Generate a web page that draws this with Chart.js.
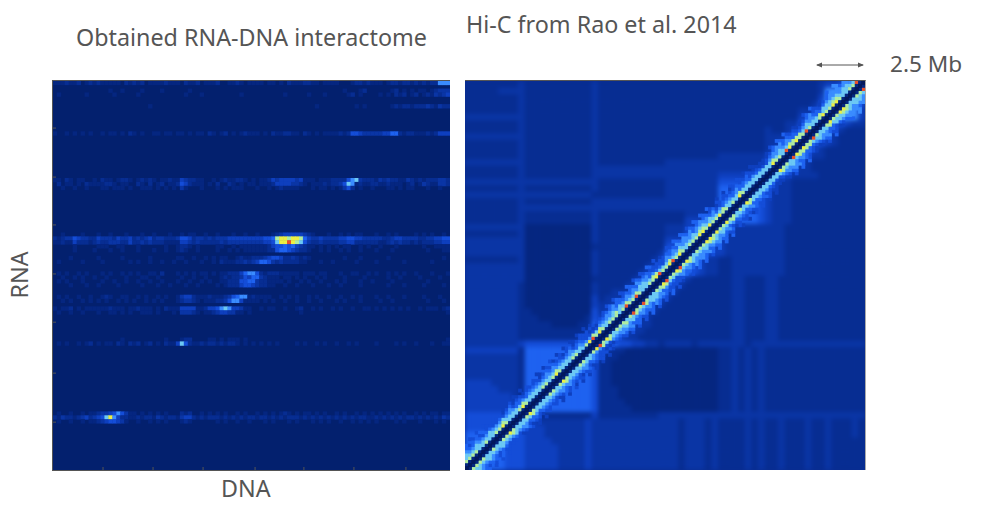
<!DOCTYPE html>
<html>
<head>
<meta charset="utf-8">
<title>RNA-DNA interactome vs Hi-C</title>
<script src="https://cdn.jsdelivr.net/npm/chart.js@4"></script>
<style>
  html, body { margin: 0; padding: 0; background: #fff; }
  body { width: 984px; height: 507px; position: relative; overflow: hidden; font-family: "Noto Sans", sans-serif; color: #555; }
  .panel { position: absolute; overflow: hidden; }
  .panel canvas { display: block; filter: blur(0.5px); }
  #rnaPanel { left: 52px; top: 80px; background: #03206e; border-top: 1px solid #555; border-left: 1px solid #555; border-bottom: 1px solid #555; }
  #hicPanel { left: 465px; top: 80px; width: 400px; height: 389px; background: #0a2d90; border-top: 1px solid #555; border-right: 1px solid #aaa; }
  #hicChart { filter: blur(2px); }
  #bandChart { position: absolute; left: 0; top: 0; }
  .label { position: absolute; font-size: 23.3px; line-height: 28px; white-space: nowrap; }
  #arrow { position: absolute; left: 810px; top: 58px; }
</style>
</head>
<body>
<div class="label" style="left:76px;top:23px">Obtained RNA-DNA interactome</div>
<div class="label" style="left:466px;top:10px">Hi-C from Rao et al. 2014</div>
<div class="label" style="left:890px;top:50px;font-size:22.6px">2.5 Mb</div>
<div class="label" style="left:221px;top:474px">DNA</div>
<div class="label" style="left:-6px;top:261px;width:50px;text-align:center;transform:rotate(-90deg)">RNA</div>
<svg id="arrow" width="60" height="14">
  <line x1="7" y1="7" x2="53" y2="7" stroke="#555" stroke-width="1"/>
  <path d="M6 7 L12 4.5 L12 9.5 Z M54 7 L48 4.5 L48 9.5 Z" fill="#555"/>
</svg>
<div class="panel" id="rnaPanel"><canvas id="rnaChart" width="397" height="389"></canvas></div>
<div class="panel" id="hicPanel">
  <canvas id="hicChart" width="400" height="389"></canvas>
  <canvas id="bandChart" width="400" height="389"></canvas>
</div>

<script>
// colour for each intensity level, read as a hex digit in the strings below
const levelColors = ["#03206e", "#052680", "#072d92", "#0a35a5", "#0e3fbe", "#144dd8", "#1e62f0", "#3a8cff", "#6cc8f4", "#b0eca0", "#ecef44", "#e8502a", "#03185c"];

// ========== LEFT PANEL: RNA-DNA, row number from the top, 100 columns each ==========
const rnaRowIndex = [0, 2, 3, 6, 13, 25, 26, 27, 39, 40, 41, 42, 43, 45, 46, 49, 50, 51, 52, 55, 56, 58, 59, 66, 67, 85, 86, 87];
const rnaRowCells = [
  "1112112012 1211111021 2120111121 1102112011 1200112101 1110110102 1112211011 1100012212 1110122122 1212122777",
  "0000000000 0000100100 0010000100 0000100000 0000000000 0000000000 0000000000 0001000120 0000012010 1011012333",
  "0100000010 0000010000 0100000000 0001000100 0000000100 0000000010 0000100010 0000120100 0010102120 1201213234",
  "0000000000 0000000000 0000100000 0000000000 0000000000 0000000000 0000001000 0000001010 0000012122 1222321322",
  "1001010101 0010110102 1010011011 0110101102 1012010121 1101021122 1102101011 1121255433 3334466212 2111212444",
  "1102101100 1021101221 0121210112 1143221100 1012112210 1011243444 4341110111 2222578322 2132322113 2121222332",
  "0201101021 1112210110 0210201201 1254211101 0200210101 1011124444 3321011121 2235871211 2211211101 2013211332",
  "0010010010 0011011101 0011101010 1031000100 0101011100 0100101211 1100010110 1013520100 1000110101 1000100100",
  "0010000100 0100100010 0010010001 0010110010 0100010010 0100012344 4443210001 0010101100 0100101000 0101010010",
  "2123354332 2433324334 2323423322 2355423323 2333444444 4445569aa9 aa96433433 3344554433 3332234433 3322334455",
  "1121142221 2322333224 2232322211 1144323222 2232333333 3334458aab a985322322 2233442222 2211232322 1212223344",
  "0000010000 0111001100 0100000010 0122101000 0110010111 1111245565 6432110101 0101100101 0010001000 0001001111",
  "0000010000 1000100100 0100010010 0121001000 0100101011 1111225665 4322100101 0010100100 0100010000 0000100011",
  "0000100000 0100000100 0000100000 0110010010 1011001211 2223455422 3212100000 0001000100 0000100000 0000000010",
  "0100000100 0010000001 0100100100 1001000100 1021112232 3466532322 2211000100 1000001000 0100000010 0000010000",
  "0101001010 0010100101 0100110200 0101010110 1011222467 7521222111 1101110110 0010011001 0100101010 0100010001",
  "0010010100 1001000010 0011001000 0010010010 0012122354 6632111011 0101001010 0001000010 0000100100 0010000100",
  "0101000100 0010010010 0100100100 0100100101 0011222556 6322111101 0010100100 0101000100 1000010000 0000100000",
  "0000100010 0100001000 0010001001 0001001000 0101222455 4322110010 0100010001 0010000100 0000100010 0001000010",
  "0101001001 0012100110 0101001010 0134421112 1112356771 2111100101 0100101001 0010010100 0100100010 0001000100",
  "0010100101 0101001010 1001010100 0123321011 1223577411 1101010010 0100100100 0101000100 0010010000 0000100010",
  "1011201011 1111211101 1211101021 1144441124 4578744311 0010110010 0120010100 1010010011 0101010101 0010111012",
  "0100100100 0100110101 0011101000 1033321011 2344331101 0000000000 0010000000 0000000000 0000000000 0000000001",
  "0000000000 0000000100 0000000010 0012200001 1010111010 0000000000 0000000000 0000000000 0000000000 0000000001",
  "0101001012 0101102102 1201201021 1485211212 2121221010 1010101000 0101001010 0100101000 0100001010 0100010011",
  "0100100101 1233457531 1010101010 0021200101 0101001010 0101010121 0101101010 0101001010 1010101010 0101011011",
  "2132212342 3458a74221 1212213212 2134421212 2212121212 2122121212 2212121212 1212121221 1212121212 2121212132",
  "0100100101 1234554310 0100101010 0012100000 0101001001 0001010001 0100010101 0010010101 0100001010 0010001010"
];

// ========== RIGHT PANEL: Hi-C, symmetric map ==========
// one string per row from the bottom, 60 columns, dots on the mirrored side of the diagonal
const hicTriangle = [
  "7766665554 4444333343 3333333333 3323332322 2232322322 2322322222",
  ".776665554 4444333343 3333333333 3323332322 2232322322 2322322222",
  "..76665554 4444333343 3333333333 3323332322 2232322322 2322322222",
  "...7665554 4444333343 3333333333 3323332322 2232322322 2322322222",
  "....765554 4443333343 3333333333 3323332322 2232322322 2322322222",
  ".....76554 4433333343 3333333333 3323332322 2232322322 2322322232",
  "......7654 4433333343 3333333333 3323332322 2232322322 2322322232",
  ".......764 4333333343 3333333333 3323332322 2232322322 2322322232",
  "........75 3222222224 2222222223 3333333333 3333333333 3333333333",
  ".........6 6666666665 2222211111 1111111122 3232322222 2222222222",
  ".......... 6666666665 2222111111 1111111122 3232322222 2222222222",
  ".......... .666666665 2221111111 1111111122 3232322222 2222222222",
  ".......... ..66666665 2221111111 1111111122 3232322222 2222222222",
  ".......... ...6666665 2211111111 1111111122 3232322222 2222222222",
  ".......... ....666665 2211111111 1111111122 3232322222 2222222222",
  ".......... .....66665 2211111111 1111111122 3232322222 2222222222",
  ".......... ......6665 2211111111 1111111122 3232322222 2222222222",
  ".......... .......666 3221111111 1111111122 3232322222 2222222222",
  ".......... ........76 5322111111 1111111122 3232322222 2222222222",
  ".......... .........7 6665544332 3333233333 3323333333 3333333333",
  ".......... .......... 6544332222 2222222222 3322233222 2222222222",
  ".......... .......... .654433222 2222222222 3322233222 2222222222",
  ".......... .......... ..65543322 2222222222 3322233222 2222222222",
  ".......... .......... ...6543322 2222222222 3322233222 2222222222",
  ".......... .......... ....654332 2222222222 3322233222 2222222222",
  ".......... .......... .....65433 2222222222 3322233222 2222222222",
  ".......... .......... ......6544 3222222222 3322233222 2222222222",
  ".......... .......... .......654 4322222222 3322233222 2222222222",
  ".......... .......... ........65 5432222222 3322233222 2222222222",
  ".......... .......... .........6 6543222222 3322233222 2222222222",
  ".......... .......... .......... 7766543322 3333333322 2222222222",
  ".......... .......... .......... .776543322 3333333322 2222222222",
  ".......... .......... .......... ..76543322 3333333322 2222222222",
  ".......... .......... .......... ...7765443 3333333322 2222222222",
  ".......... .......... .......... ....776443 3333333322 2222222222",
  ".......... .......... .......... .....76443 3333333322 2222222222",
  ".......... .......... .......... ......7543 3333333322 2222222222",
  ".......... .......... .......... .......654 3333333322 2222222222",
  ".......... .......... .......... ........66 6666543332 2222222222",
  ".......... .......... .......... .........6 6666543332 2222222222",
  ".......... .......... .......... .......... 6666543332 2222222222",
  ".......... .......... .......... .......... .666543332 2222222222",
  ".......... .......... .......... .......... ..66543332 2222222222",
  ".......... .......... .......... .......... ...6543332 2222222222",
  ".......... .......... .......... .......... ....654332 2222222222",
  ".......... .......... .......... .......... .....77543 3332222222",
  ".......... .......... .......... .......... ......7754 3322222222",
  ".......... .......... .......... .......... .......775 4322222222",
  ".......... .......... .......... .......... ........76 5433222222",
  ".......... .......... .......... .......... .........7 6543222222",
  ".......... .......... .......... .......... .......... 7765432222",
  ".......... .......... .......... .......... .......... .765432222",
  ".......... .......... .......... .......... .......... ..66543222",
  ".......... .......... .......... .......... .......... ...6665433",
  ".......... .......... .......... .......... .......... ....677774",
  ".......... .......... .......... .......... .......... .....67774",
  ".......... .......... .......... .......... .......... ......6775",
  ".......... .......... .......... .......... .......... .......665",
  ".......... .......... .......... .......... .......... ........65",
  ".......... .......... .......... .......... .......... .........6"
];

// finer cells along the diagonal, 120 positions, one string per distance from it
const hicBandOffsets = [8, 7, 6, 5, 4, 3, 2, 1, 0];
const hicBandCells = [
  ".5.5.5.... ....4.4... .4.4.5.4.4 .4.4.4.... ..5.5.5.6. 5.5.6.5... 5.6.6.5.6. 6.6..4.4.5 .5.4.4.... .5.6.6.... .5.6....6. 7.6.7.6...",
  "6.5.6.5... .4.5.4..5. 5.4.5.4.5. 5.4.5..4.. .5.6.6.5.6 .6.5.6..4. .5.6.6.6.6 .6.5.5.5.4 5.5.5.4... 4.6.6.5.4. 4.6.5.4.6. .7.7.6.7..",
  "6566565555 5456455455 5545656554 5645555555 5566766566 6766655555 6667676766 7665645555 5655654444 4567766554 4567554567 7767766555",
  "7667656655 6567566566 6656767665 6756655444 6677766676 7677765555 7676777767 7776755666 6766655544 5677767665 5677665677 7777767666",
  "8778777877 7877766767 7777777777 7776765555 7777878777 7788767665 7777877787 8878767677 6766767665 5777877766 6787766888 8878876777",
  "8888888888 8988888988 8888888988 8888877798 9888898898 8988889988 8988988888 9988888988 8898888888 8898888999 9888889888 9988888998",
  "9999889889 9a98889a98 8889989a98 8899889ab9 a9899989b9 9b98899ab9 9ab9a98999 aa9a99a998 98a9888888 88a998ba9a 99b9889a99 aa98899b99",
  "1111111111 1111111111 1111111111 1111111111 1111111111 1111111111 1111111111 1111111111 1111111111 1111111111 1111111111 1111111111",
  "cccccccccc cccccccccc cccccccccc cccccccccc cccccccccc cccccccccc cccccccccc cccccccccc cccccccccc cccccccccc cccccccccc cccccccccc"
];

// tick marks on the left panel, in column and row numbers
const rnaTickCols = [12.6, 25.2, 37.8, 50.9, 63.2, 75.8, 88.9];
const rnaTickRows = [12.1, 24.7, 37, 49.6, 62, 75.1, 87.7];

// ========== BUILD POINTS FROM THE STRINGS ==========
function digits(text) {
  return text.replace(/ /g, "").split("").map(function (c) { return parseInt(c, 16); });
}

const rnaPoints = [];
const rnaColors = [];
rnaRowIndex.forEach(function (row, r) {
  digits(rnaRowCells[r]).forEach(function (level, col) {
    if (level > 0) {
      rnaPoints.push({ x: col + 0.5, y: row + 0.5 });
      rnaColors.push(levelColors[level]);
    }
  });
});

const hicPoints = [];
const hicColors = [];
hicTriangle.forEach(function (text, row) {
  digits(text).forEach(function (level, col) {
    if (isNaN(level)) return;
    hicPoints.push({ x: col + 0.5, y: row + 0.5 });
    hicColors.push(levelColors[level]);
    if (col !== row) {
      hicPoints.push({ x: row + 0.5, y: col + 0.5 });
      hicColors.push(levelColors[level]);
    }
  });
});

const bandPoints = [];
const bandColors = [];
hicBandOffsets.forEach(function (offset, k) {
  digits(hicBandCells[k]).forEach(function (level, i) {
    if (isNaN(level) || i + offset > 119) return;
    const a = (i + offset + 0.5) / 2;
    const b = (i + 0.5) / 2;
    bandPoints.push({ x: a, y: b });
    bandColors.push(levelColors[level]);
    bandPoints.push({ x: b, y: a });
    bandColors.push(levelColors[level]);
  });
});

// ========== CHARTS ==========
function heatDataset(points, colors, radius, order) {
  return {
    data: points,
    showLine: false,
    pointStyle: "rect",
    pointRadius: radius,
    pointBorderWidth: 0,
    pointBackgroundColor: colors,
    clip: 0,
    order: order
  };
}

function tickDataset(points, rotation) {
  return {
    data: points,
    showLine: false,
    pointStyle: "line",
    pointRadius: 3,
    pointRotation: rotation,
    pointBorderWidth: 1,
    pointBorderColor: "#555",
    clip: 0,
    order: 0
  };
}

function heatOptions(xMax, yMax, flipY) {
  return {
    responsive: false,
    animation: false,
    events: [],
    layout: { padding: 0, autoPadding: false },
    plugins: { legend: { display: false }, tooltip: { enabled: false } },
    scales: {
      x: { type: "linear", display: false, min: 0, max: xMax },
      y: { type: "linear", display: false, min: 0, max: yMax, reverse: flipY }
    }
  };
}

new Chart(document.getElementById("rnaChart"), {
  type: "scatter",
  data: {
    datasets: [
      heatDataset(rnaPoints, rnaColors, 3.1, 1),
      tickDataset(rnaTickCols.map(function (c) { return { x: c, y: 100 }; }), 90),
      tickDataset(rnaTickRows.map(function (r) { return { x: 0, y: r }; }), 0)
    ]
  },
  options: heatOptions(100, 100, true)
});

new Chart(document.getElementById("hicChart"), {
  type: "scatter",
  data: { datasets: [heatDataset(hicPoints, hicColors, 5.1, 1)] },
  options: heatOptions(60, 60, false)
});

new Chart(document.getElementById("bandChart"), {
  type: "scatter",
  data: { datasets: [heatDataset(bandPoints, bandColors, 2.7, 1)] },
  options: heatOptions(60, 60, false)
});
</script>
</body>
</html>
